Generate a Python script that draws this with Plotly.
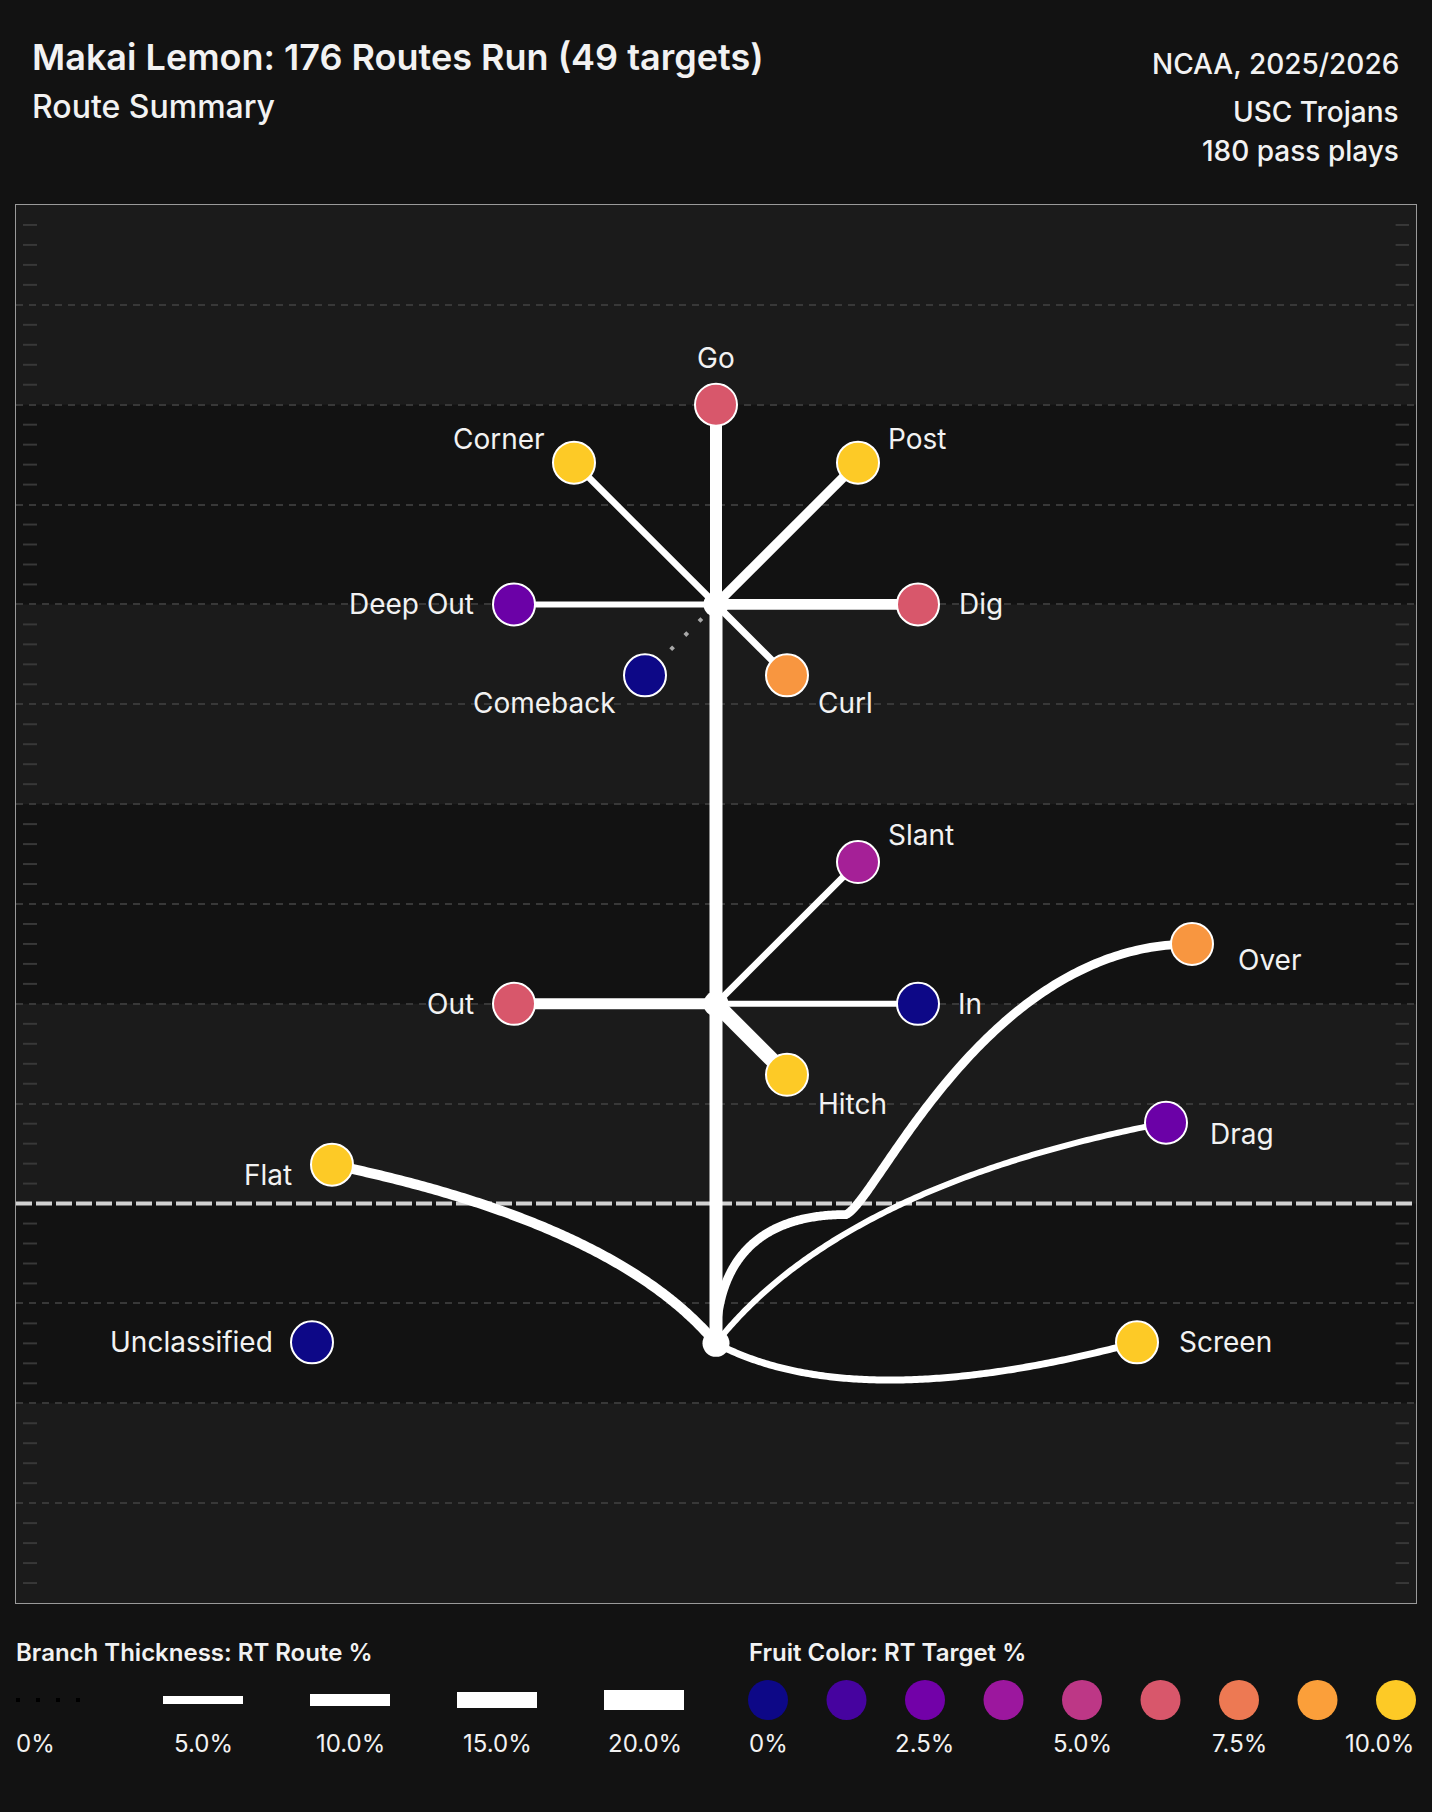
import numpy as np
from math import comb
import plotly.graph_objects as go
from plotly.colors import sample_colorscale

# ---------------- data ----------------
title_text = "Makai Lemon: 176 Routes Run (49 targets)"
subtitle_text = "Route Summary"
info_lines = ["NCAA, 2025/2026", "USC Trojans", "180 pass plays"]

node_names = ["root", "short", "deep"]
node_x = [0.0, 0.0, 0.0]
node_y = [-7.0, 10.0, 30.0]

route_names = ["Go", "Corner", "Post", "Deep Out", "Dig", "Comeback", "Curl",
               "Slant", "Out", "In", "Hitch",
               "Over", "Drag", "Flat", "Screen", "Unclassified"]
route_parent = ["deep", "deep", "deep", "deep", "deep", "deep", "deep",
                "short", "short", "short", "short",
                "root", "root", "root", "root", None]
route_end_x = [0.0, -7.1, 7.1, -10.1, 10.1, -3.55, 3.55,
               7.1, -10.1, 10.1, 3.55,
               23.8, 22.5, -19.2, 21.05, -20.2]
route_end_y = [40.0, 37.1, 37.1, 30.0, 30.0, 26.45, 26.45,
               17.1, 10.0, 10.0, 6.45,
               13.0, 4.05, 1.95, -6.95, -6.95]
# RT Route % (branch thickness)
route_pct = [10.0, 3.3, 6.8, 2.5, 8.4, 0.0, 3.75,
             3.3, 8.75, 2.5, 13.75,
             6.0, 2.5, 7.5, 3.75, 0.0]
# RT Target % (fruit colour)
target_pct = [6.25, 10.0, 10.0, 2.3, 6.25, 0.0, 8.45,
              4.1, 6.25, 0.0, 10.0,
              8.45, 2.3, 10.0, 10.0, 0.0]

# bezier control points for curved routes (between parent node and route end)
curve_ctrl = {
    "Over": [[(0.0, -2.5), (2.5, -0.55), (6.5, -0.55)],
             [(8.1, 0.2), (13.5, 13.0)]],
    "Drag": [[(6.2, 0.9)]],
    "Flat": [[(-5.0, -1.0)]],
    "Screen": [[(7.0, -10.7)]],
}

thick_legend_vals = [0, 5, 10, 15, 20]
thick_legend_labels = ["0%", "5.0%", "10.0%", "15.0%", "20.0%"]
color_legend_vals = [0, 1.25, 2.5, 3.75, 5.0, 6.25, 7.5, 8.75, 10.0]
color_legend_labels = ["0%", "", "2.5%", "", "5.0%", "", "7.5%", "", "10.0%"]

# ---------------- style ----------------
W, H = 1432, 1812
L, R, T, B = 16, 16, 205, 209
PW, PH = W - L - R, H - T - B
FONT = "Inter"
TXT = "#f2f2f2"
BG = "#121212"
BAND = "#1b1b1b"
STEM_W = 13
MARKER_SIZE = 42

label_anchor = ["center", "right", "left", "right", "left", "right", "left",
                "left", "right", "left", "left",
                "left", "left", "right", "left", "right"]
label_dx = [0, -27, 28, -38, 39, -27, 29, 28, -38, 38, 29, 44, 42, -38, 40, -37]
label_dy = [47, 24, 24, 0, 0, -28, -28, 27, 0, 0, -29, -16, -11, -10, 0, 0]


def px2x(px):
    return (px - L) / PW


def px2y(py):
    return (H - B - py) / PH


def width_for(p):
    return 4 + 0.8 * p


def color_for(t):
    return sample_colorscale("Plasma", [min(max(t, 0), 10) / 10 * 8 / 9])[0]


def bezier(pts, n=160):
    pts = np.array(pts, float)
    d = len(pts) - 1
    t = np.linspace(0, 1, n)[:, None]
    out = np.zeros((n, 2))
    for i in range(d + 1):
        out += comb(d, i) * t ** i * (1 - t) ** (d - i) * pts[i]
    return out


node_pos = {n: (x, y) for n, x, y in zip(node_names, node_x, node_y)}

fig = go.Figure()

# hash marks (every yard, not on 5-yard lines)
hx, hy = [], []
for yd in range(-19, 50):
    if yd % 5 == 0:
        continue
    hx += [-34.65, -33.95, None, 33.98, 34.65, None]
    hy += [yd, yd, None, yd, yd, None]
fig.add_trace(go.Scatter(x=hx, y=hy, mode="lines", line=dict(color="#383838", width=2),
                         hoverinfo="skip", showlegend=False))

# line of scrimmage (as a trace so it sits above grid)
fig.add_trace(go.Scatter(x=[-35, 35], y=[0, 0], mode="lines",
                         line=dict(color="#d2d2d2", width=4, dash="16px,4px"),
                         hoverinfo="skip", showlegend=False))

# stem
stem_x = [node_x[0], node_x[1], None, node_x[1], node_x[2]]
stem_y = [node_y[0], node_y[1], None, node_y[1], node_y[2]]
fig.add_trace(go.Scatter(x=stem_x, y=stem_y, mode="lines",
                         line=dict(color="white", width=STEM_W),
                         hoverinfo="skip", showlegend=False))

# branches
for name, par, ex, ey, rp in zip(route_names, route_parent, route_end_x, route_end_y, route_pct):
    if par is None:
        continue
    start = node_pos[par]
    if name in curve_ctrl:
        xs, ys = [], []
        cur = start
        segs = curve_ctrl[name]
        for k, seg in enumerate(segs):
            pts = [cur] + list(seg)
            if k == len(segs) - 1:
                pts = pts + [(ex, ey)]
            c = bezier(pts)
            xs += list(c[:, 0])
            ys += list(c[:, 1])
            cur = pts[-1]
    else:
        xs, ys = [start[0], ex], [start[1], ey]
    if rp <= 0:
        line = dict(color="#a8a8a8", width=4, dash="4px,16px")
    else:
        line = dict(color="white", width=width_for(rp), simplify=False)
    fig.add_trace(go.Scatter(x=xs, y=ys, mode="lines", line=line,
                             hoverinfo="skip", showlegend=False))

# junction nodes
fig.add_trace(go.Scatter(x=node_x, y=node_y, mode="markers",
                         marker=dict(color="white", size=[27, 25, 25], opacity=1,
                                     line=dict(width=0)),
                         hoverinfo="skip", showlegend=False))

# fruits
fig.add_trace(go.Scatter(x=route_end_x, y=route_end_y, mode="markers",
                         marker=dict(color=[color_for(t) for t in target_pct], size=MARKER_SIZE,
                                     opacity=1, line=dict(color="white", width=2)),
                         text=route_names, hoverinfo="text", showlegend=False))

annotations = []
for name, ex, ey, anc, dx, dy in zip(route_names, route_end_x, route_end_y,
                                     label_anchor, label_dx, label_dy):
    annotations.append(dict(x=ex, y=ey, xref="x", yref="y", text=name, showarrow=False,
                            xanchor=anc, yanchor="middle", xshift=dx, yshift=dy,
                            font=dict(family=FONT, size=28, color=TXT)))

# header
annotations.append(dict(x=px2x(30), y=px2y(57), xref="paper", yref="paper", text=title_text,
                        showarrow=False, xanchor="left", yanchor="middle",
                        font=dict(family=FONT, size=36, color=TXT, weight=600)))
annotations.append(dict(x=px2x(30), y=px2y(106), xref="paper", yref="paper", text=subtitle_text,
                        showarrow=False, xanchor="left", yanchor="middle",
                        font=dict(family=FONT, size=32, color=TXT, weight=500)))
for txt, py in zip(info_lines, [64, 112, 151]):
    annotations.append(dict(x=px2x(1401), y=px2y(py), xref="paper", yref="paper", text=txt,
                            showarrow=False, xanchor="right", yanchor="middle",
                            font=dict(family=FONT, size=28, color=TXT, weight=500)))

shapes = []
# field bands
for y0 in [40, 20, 0, -20]:
    shapes.append(dict(type="rect", xref="paper", yref="y", x0=0, x1=1, y0=y0, y1=y0 + 10,
                       fillcolor=BAND, line=dict(width=0), layer="below"))

# ---------- legends ----------
LEG_Y = 1700
annotations.append(dict(x=px2x(14), y=px2y(1652), xref="paper", yref="paper",
                        text="Branch Thickness: RT Route %", showarrow=False,
                        xanchor="left", yanchor="middle",
                        font=dict(family=FONT, size=24, color=TXT, weight=600)))
annotations.append(dict(x=px2x(747), y=px2y(1652), xref="paper", yref="paper",
                        text="Fruit Color: RT Target %", showarrow=False,
                        xanchor="left", yanchor="middle",
                        font=dict(family=FONT, size=24, color=TXT, weight=600)))

nT = len(thick_legend_vals)
for i, (v, lab) in enumerate(zip(thick_legend_vals, thick_legend_labels)):
    left = 16 + 147 * i
    if v <= 0:
        for k in range(4):
            shapes.append(dict(type="rect", xref="paper", yref="paper",
                               x0=px2x(left + 20 * k), x1=px2x(left + 20 * k + 4),
                               y0=px2y(LEG_Y - 2), y1=px2y(LEG_Y + 2),
                               fillcolor="#000000", line=dict(width=0)))
    else:
        h = width_for(v)
        shapes.append(dict(type="rect", xref="paper", yref="paper",
                           x0=px2x(left), x1=px2x(left + 80),
                           y0=px2y(LEG_Y - h / 2), y1=px2y(LEG_Y + h / 2),
                           fillcolor="white", line=dict(width=0)))
    if i == 0:
        ax, anc = left - 2, "left"
    elif i == nT - 1:
        ax, anc = left + 80, "right"
    else:
        ax, anc = left + 40, "center"
    annotations.append(dict(x=px2x(ax), y=px2y(1743), xref="paper", yref="paper", text=lab,
                            showarrow=False, xanchor=anc, yanchor="middle",
                            font=dict(family=FONT, size=24, color=TXT)))

nC = len(color_legend_vals)
for i, (v, lab) in enumerate(zip(color_legend_vals, color_legend_labels)):
    cx = 768 + (1396 - 768) / (nC - 1) * i
    shapes.append(dict(type="circle", xref="paper", yref="paper",
                       x0=px2x(cx - 20), x1=px2x(cx + 20),
                       y0=px2y(LEG_Y + 20), y1=px2y(LEG_Y - 20),
                       fillcolor=color_for(v), line=dict(width=0)))
    if lab:
        if i == 0:
            ax, anc = cx - 21, "left"
        elif i == nC - 1:
            ax, anc = cx + 20, "right"
        else:
            ax, anc = cx, "center"
        annotations.append(dict(x=px2x(ax), y=px2y(1743), xref="paper", yref="paper", text=lab,
                                showarrow=False, xanchor=anc, yanchor="middle",
                                font=dict(family=FONT, size=24, color=TXT)))

grid_vals = [v for v in range(-15, 50, 5) if v != 0]

fig.update_layout(
    width=W, height=H,
    margin=dict(l=L, r=R, t=T, b=B, pad=0),
    paper_bgcolor=BG, plot_bgcolor=BG,
    showlegend=False,
    shapes=shapes, annotations=annotations,
    xaxis=dict(range=[-35, 35], showgrid=False, zeroline=False, showticklabels=False,
               ticks="", showline=True, mirror=True, linecolor="#9a9a9a", linewidth=1.2,
               fixedrange=True),
    yaxis=dict(range=[-20, 50], tickmode="array", tickvals=grid_vals, showgrid=True,
               gridcolor="#383838", griddash="7px,6px", gridwidth=1.5, zeroline=False,
               showticklabels=False, ticks="", showline=True, mirror=True,
               linecolor="#9a9a9a", linewidth=1.2, fixedrange=True),
    font=dict(family=FONT, color=TXT),
)

fig.write_html(
    "out.html",
    config={"displayModeBar": False},
    post_script="document.body.style.margin='0';document.body.style.padding='0';"
                "document.body.style.background='#121212';"
                "document.documentElement.style.overflow='hidden';",
)
